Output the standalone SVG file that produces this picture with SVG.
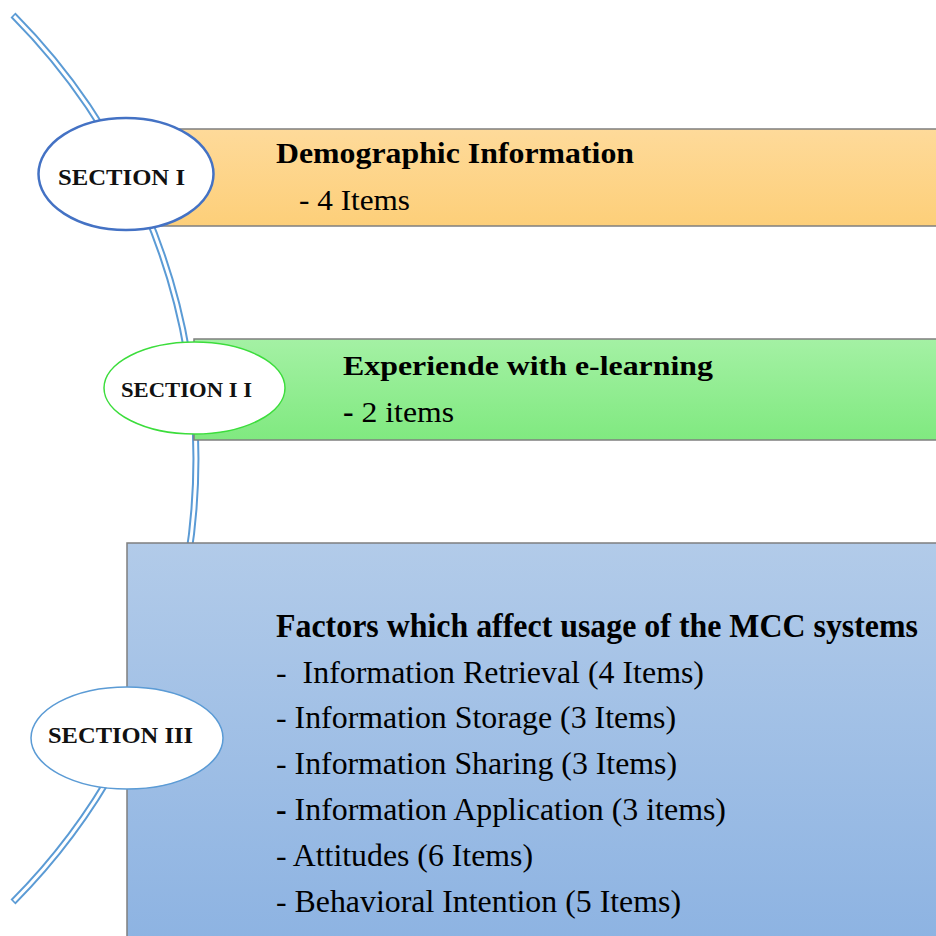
<svg xmlns="http://www.w3.org/2000/svg" width="936" height="936" viewBox="0 0 936 936">
  <defs>
    <linearGradient id="gradOrange" x1="0" y1="0" x2="0" y2="1">
      <stop offset="0" stop-color="#FEDA9A"/>
      <stop offset="1" stop-color="#FDCF79"/>
    </linearGradient>
    <linearGradient id="gradGreen" x1="0" y1="0" x2="0" y2="1">
      <stop offset="0" stop-color="#A4F1A4"/>
      <stop offset="1" stop-color="#80E980"/>
    </linearGradient>
    <linearGradient id="gradBlue" x1="0" y1="0" x2="0" y2="1">
      <stop offset="0" stop-color="#B2CBE9"/>
      <stop offset="1" stop-color="#8DB3E2"/>
    </linearGradient>
  </defs>
  <style>
    .box { stroke: #7F7F7F; stroke-width: 1.5; }
    .oval { fill: #FFFFFF; }
    .label { font-family: 'Liberation Serif', serif; font-weight: bold; fill: #111111; }
    .title { font-family: 'Liberation Serif', serif; font-weight: bold; fill: #000000; }
    .item { font-family: 'Liberation Serif', serif; fill: #000000; }
    .rail-outer { fill: none; stroke: #5B9BD5; stroke-width: 7; }
    .rail-inner { fill: none; stroke: #FFFFFF; stroke-width: 3; }
  </style>

  <!-- double-line arc linking the three sections -->
  <g id="connectors">
    <path class="rail-outer" d="M 13 15 A 629 629 0 0 1 13 902"/>
    <path class="rail-inner" d="M 14.1 16.1 A 629 629 0 0 1 14.1 900.9"/>
  </g>

  <!-- Section I -->
  <g id="section1">
    <rect class="box" x="150" y="129" width="800" height="97" fill="url(#gradOrange)"/>
    <ellipse class="oval" cx="126" cy="174" rx="87.5" ry="56" stroke="#4472C4" stroke-width="2.5"/>
    <text class="label" x="58" y="185" font-size="23.5" textLength="127" lengthAdjust="spacingAndGlyphs">SECTION I</text>
    <text class="title" x="276" y="163" font-size="28.5" textLength="358" lengthAdjust="spacingAndGlyphs">Demographic Information</text>
    <text class="item" x="299" y="210" font-size="30" textLength="111" lengthAdjust="spacingAndGlyphs">- 4 Items</text>
  </g>

  <!-- Section II -->
  <g id="section2">
    <rect class="box" x="194" y="339" width="756" height="101" fill="url(#gradGreen)"/>
    <ellipse class="oval" cx="194.5" cy="388" rx="90.5" ry="46" stroke="#3CDD3C" stroke-width="1.5"/>
    <text class="label" x="121" y="397" font-size="20.5" textLength="131" lengthAdjust="spacingAndGlyphs">SECTION I I</text>
    <text class="title" x="343" y="375" font-size="27.5" textLength="370" lengthAdjust="spacingAndGlyphs">Experiende with e-learning</text>
    <text class="item" x="343" y="422" font-size="30" textLength="111" lengthAdjust="spacingAndGlyphs"><tspan font-weight="bold">-</tspan> 2 items</text>
  </g>

  <!-- Section III -->
  <g id="section3">
    <rect class="box" x="127" y="543" width="823" height="400" fill="url(#gradBlue)"/>
    <ellipse class="oval" cx="127" cy="738" rx="96" ry="51" stroke="#5B9BD5" stroke-width="1.5"/>
    <text class="label" x="48" y="743" font-size="24" textLength="145" lengthAdjust="spacingAndGlyphs">SECTION III</text>
    <text class="title" x="276" y="637" font-size="33" textLength="642" lengthAdjust="spacingAndGlyphs">Factors which affect usage of the MCC systems</text>
    <text class="item" x="276" y="682.5" font-size="31.5" textLength="428" lengthAdjust="spacingAndGlyphs" xml:space="preserve">-  Information Retrieval (4 Items)</text>
    <text class="item" x="276" y="728" font-size="31.5" textLength="400" lengthAdjust="spacingAndGlyphs">- Information Storage (3 Items)</text>
    <text class="item" x="276" y="773.5" font-size="31.5" textLength="401" lengthAdjust="spacingAndGlyphs">- Information Sharing (3 Items)</text>
    <text class="item" x="276" y="819.5" font-size="31.5" textLength="450" lengthAdjust="spacingAndGlyphs"><tspan font-weight="bold">-</tspan> Information Application (3 items)</text>
    <text class="item" x="276" y="865.5" font-size="31.5" textLength="257" lengthAdjust="spacingAndGlyphs">- Attitudes (6 Items)</text>
    <text class="item" x="276" y="911.5" font-size="31.5" textLength="405" lengthAdjust="spacingAndGlyphs">- Behavioral Intention (5 Items)</text>
  </g>
</svg>
